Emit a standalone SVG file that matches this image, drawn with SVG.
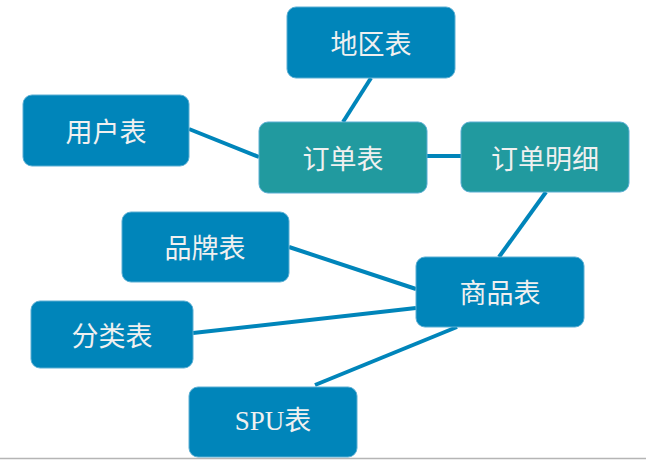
<svg xmlns="http://www.w3.org/2000/svg" width="646" height="460" viewBox="0 0 646 460">
<style>
.n rect{stroke:#5aaed3;stroke-width:1}
.b rect{fill:#0085ba}
.t rect{fill:#219a9f}
text{font-family:"Noto Sans CJK SC",sans-serif;font-size:27px;fill:#f0f0f0;text-anchor:middle;dominant-baseline:central}
.serif text{font-family:"Liberation Serif","Noto Sans CJK SC",serif}
#edges line{stroke:#0085ba;stroke-width:4;stroke-linecap:butt}
</style>
<rect width="646" height="460" fill="#ffffff"/>
<line x1="0" y1="458.5" x2="646" y2="458.5" stroke="#b5b5b5" stroke-width="1.5"/>
<g id="edges">
<line x1="371" y1="78" x2="343" y2="122"/>
<line x1="189" y1="129" x2="259" y2="157"/>
<line x1="427" y1="156" x2="461" y2="156"/>
<line x1="546" y1="192" x2="499" y2="257"/>
<line x1="289" y1="247" x2="416" y2="289"/>
<line x1="193" y1="333" x2="416" y2="308"/>
<line x1="315" y1="385" x2="457" y2="327"/>
</g>
<g id="diqu" class="n b"><rect x="287" y="7" width="168" height="71" rx="9"/><text x="371" y="42">地区表</text></g>
<g id="yonghu" class="n b"><rect x="23" y="95" width="166" height="71" rx="9"/><text x="106" y="130">用户表</text></g>
<g id="dingdan" class="n t"><rect x="259" y="122" width="168" height="71" rx="9"/><text x="343" y="157">订单表</text></g>
<g id="mingxi" class="n t"><rect x="461" y="122" width="168" height="70" rx="9"/><text x="545" y="157">订单明细</text></g>
<g id="pinpai" class="n b"><rect x="122" y="212" width="167" height="70" rx="9"/><text x="205" y="246">品牌表</text></g>
<g id="shangpin" class="n b"><rect x="416" y="257" width="168" height="70" rx="9"/><text x="500" y="291">商品表</text></g>
<g id="fenlei" class="n b"><rect x="31" y="301" width="162" height="67" rx="9"/><text x="112" y="334">分类表</text></g>
<g id="spu" class="n b serif"><rect x="189" y="387" width="168" height="70" rx="9"/><text x="273" y="421">SPU表</text></g>
</svg>
